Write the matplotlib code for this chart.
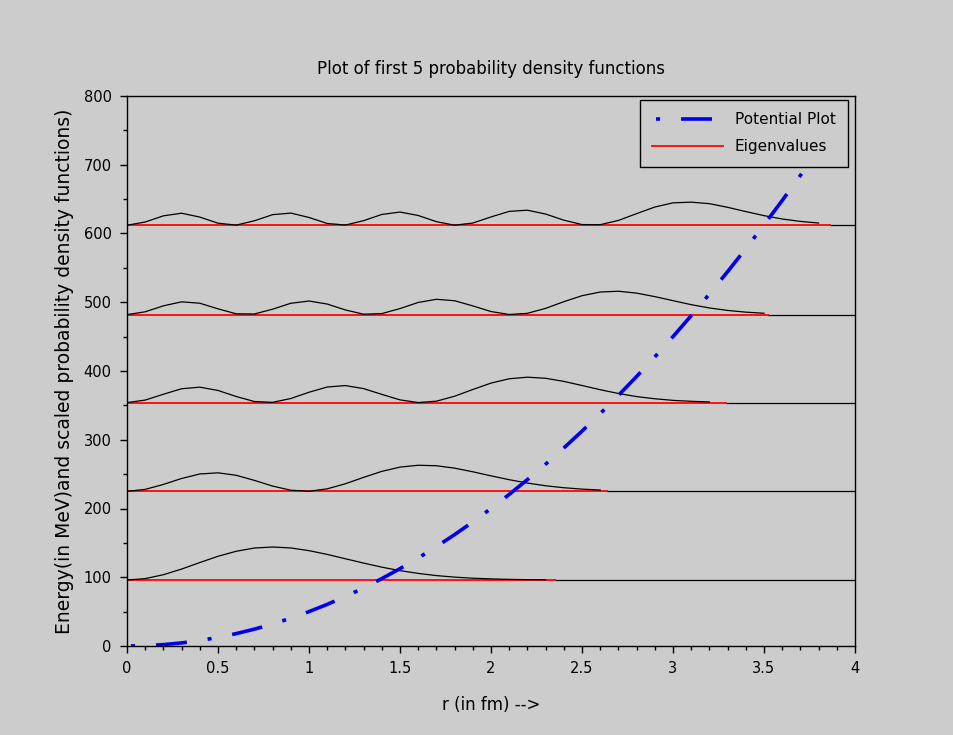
import numpy as np
import matplotlib
matplotlib.use("Agg")
import matplotlib.pyplot as plt
from matplotlib.ticker import MultipleLocator

plt.rcParams['font.family'] = ['DejaVu Sans']
plt.rcParams['lines.scale_dashes'] = False

#%% data

# potential V(r) in MeV
r_pot = [0.0, 0.1, 0.2, 0.3, 0.4, 0.5, 0.6, 0.7, 0.8, 0.9, 1.0, 1.1, 1.2, 1.3, 1.4,
         1.5, 1.6, 1.7, 1.8, 1.9, 2.0, 2.1, 2.2, 2.3, 2.4, 2.5, 2.6, 2.7, 2.8, 2.9,
         3.0, 3.1, 3.2, 3.3, 3.4, 3.5, 3.6, 3.7, 3.8, 3.9, 4.0]
v_pot = [0, 0.5, 2, 4.5, 8, 12.5, 18, 24.5, 32, 40.5, 50, 60.5, 72, 84.5, 98,
         112.5, 128, 144.5, 162, 180.5, 200, 220.5, 242, 264.5, 288, 312.5, 338, 364.5, 392, 420.5,
         450, 480.5, 512, 544.5, 578, 612.5, 648, 684.5, 722, 760.5, 800]

# eigenvalues (MeV) and where each computed curve stops (fm)
eigen = [96, 225, 354, 482, 612]
r_end = [2.35, 2.64, 3.29, 3.52, 3.86]

# scaled pdf above its eigenvalue, every 0.1 fm starting at r = 0
pdf1 = [0, 2.0, 7.7, 15.9, 25.4, 34.5, 41.8, 46.5, 48.0, 46.6, 42.7, 37.2, 30.9, 24.6,
        18.7, 13.6, 9.6, 6.4, 4.2, 2.6, 1.6, 0.9, 0.5, 0.3]
pdf2 = [0, 2.8, 10.0, 18.7, 25.2, 26.9, 23.3, 15.9, 7.6, 1.6, 0.1, 3.6, 11.0, 20.3, 29.0,
        35.2, 37.9, 37.2, 33.7, 28.4, 22.5, 16.9, 12.0, 8.1, 5.2, 3.2, 1.9]
pdf3 = [0, 3.7, 12.2, 20.2, 22.5, 17.7, 8.9, 1.6, 0.4, 6.0, 15.1, 22.7, 24.8, 20.4, 12.0,
        4.0, 0.1, 2.1, 9.3, 19.1, 28.4, 34.7, 37.0, 35.4, 30.9, 24.9, 18.8, 13.3, 8.8, 5.6,
        3.3, 1.9, 1.0]
pdf4 = [0, 4.1, 12.8, 18.6, 16.6, 8.4, 1.2, 0.9, 7.9, 16.5, 19.8, 15.4, 6.8, 0.6, 1.5,
        8.8, 17.7, 22.3, 20.2, 12.7, 4.5, 0.2, 1.9, 9.1, 18.8, 27.5, 32.9, 34.0, 31.3, 26.2,
        20.3, 14.5, 9.7, 6.1, 3.6, 2.0]
pdf5 = [0, 4.7, 13.7, 17.5, 11.9, 3.0, 0.2, 6.5, 15.4, 17.7, 11.3, 2.6, 0.3, 6.7, 15.7,
        19.2, 14.2, 5.2, 0.1, 3.2, 12.1, 20.2, 21.9, 16.3, 7.4, 1.0, 0.8, 7.0, 16.9, 26.5,
        32.6, 33.6, 31.4, 26.1, 19.9, 14.0, 9.1, 5.6, 3.2]
pdfs = [pdf1, pdf2, pdf3, pdf4, pdf5]

#%% figure

bg = '#cccccc'
fig = plt.figure(figsize=(9.54, 7.35), dpi=100, facecolor=bg)
ax = fig.add_axes([127/954, 1-646/735, 728/954, 550/735])
ax.set_facecolor(bg)

red_lines = []
for e, end, pdf in zip(eigen, r_end, pdfs):
    r = np.arange(len(pdf)) * 0.1
    ax.plot([end, 4], [e, e], color='black', lw=0.9, zorder=1)
    red, = ax.plot([0, end], [e, e], color='#ff0000', lw=1.4, alpha=0.9, zorder=2)
    red_lines.append(red)
    ax.plot(r, e + np.array(pdf), color='black', lw=0.9, zorder=3)

# dot - dash pattern (points)
pot, = ax.plot(r_pot, v_pot, color='#0000ee', lw=2.6,
               linestyle=(52.5, (2.9, 15.1, 22.3, 15.1)), zorder=4)

ax.set_xlim(0, 4)
ax.set_ylim(0, 800)
ax.set_xticks([0, 0.5, 1, 1.5, 2, 2.5, 3, 3.5, 4])
ax.set_xticklabels(['0', '0.5', '1', '1.5', '2', '2.5', '3', '3.5', '4'])
ax.xaxis.set_minor_locator(MultipleLocator(0.1))
ax.yaxis.set_major_locator(MultipleLocator(100))
ax.yaxis.set_minor_locator(MultipleLocator(50))
ax.tick_params(which='major', direction='out', length=5, width=1, labelsize=10.5, pad=6)
ax.tick_params(which='minor', direction='out', length=3, width=1)
for s in ax.spines.values():
    s.set_linewidth(1.0)

ax.set_title("Plot of first 5 probability density functions", fontsize=12, pad=16)
ax.set_xlabel("r (in fm) -->", fontsize=12, labelpad=14)
ax.set_ylabel("Energy(in MeV)and scaled probability density functions)", fontsize=13.5, labelpad=7)

leg = ax.legend(handles=[pot, red_lines[0]], labels=['Potential Plot', 'Eigenvalues'],
                loc='upper right', bbox_to_anchor=(848/954, 1-100/735),
                bbox_transform=fig.transFigure, borderaxespad=0, fancybox=False,
                edgecolor='black', facecolor=bg, framealpha=1, fontsize=11,
                handlelength=4.6, handletextpad=0.8, labelspacing=0.8, borderpad=0.8)
leg.get_frame().set_linewidth(1.0)
leg.set_zorder(10)

fig.savefig("out.png", dpi=100, facecolor=bg)
